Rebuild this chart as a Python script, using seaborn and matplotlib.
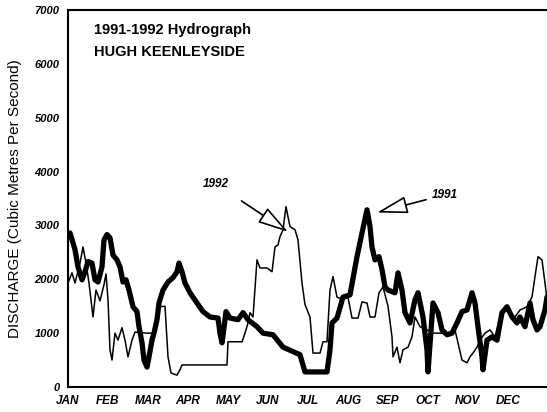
import matplotlib
matplotlib.use("Agg")
import matplotlib.pyplot as plt
import seaborn as sns
import pandas as pd

# ---- data (x in months from 1 Jan, y in m3/s) ----
months = ["JAN", "FEB", "MAR", "APR", "MAY", "JUN", "JUL", "AUG", "SEP", "OCT", "NOV", "DEC"]
yticks = [0, 1000, 2000, 3000, 4000, 5000, 6000, 7000]

t_1991 = [0.05, 0.175, 0.25, 0.35, 0.425, 0.5, 0.6, 0.675, 0.75, 0.85, 0.9, 0.975, 1.05, 1.125,
          1.225, 1.3, 1.375, 1.45, 1.525, 1.625, 1.725, 1.775, 1.85, 1.9, 1.975, 2.025, 2.1,
          2.15, 2.225, 2.275, 2.375, 2.5, 2.625, 2.725, 2.775, 2.85, 2.925, 3.05, 3.225,
          3.375, 3.55, 3.75, 3.8, 3.85, 3.9, 3.95, 4.05, 4.25, 4.375, 4.5, 4.725, 4.875,
          5.125, 5.375, 5.8, 5.925, 6.475, 6.55, 6.6, 6.725, 6.875, 7.05, 7.225, 7.35,
          7.475, 7.55, 7.6, 7.675, 7.775, 7.85, 7.925, 8.0, 8.175, 8.25, 8.35, 8.425,
          8.55, 8.675, 8.75, 8.875, 8.975, 9.0, 9.125, 9.25, 9.35, 9.475, 9.6, 9.725,
          9.85, 9.975, 10.1, 10.175, 10.25, 10.35, 10.375, 10.475, 10.6, 10.725, 10.85,
          10.975, 11.1, 11.225, 11.3, 11.425, 11.55, 11.625, 11.725, 11.8, 11.925, 11.975]
q_1991 = [2860, 2550, 2230, 1990, 2140, 2330, 2300, 1990, 1950, 2230, 2730, 2830, 2770, 2450,
          2360, 2230, 1950, 1990, 1800, 1490, 1400, 1120, 820, 500, 370, 560, 870,
          1000, 1250, 1560, 1800, 1950, 2030, 2140, 2300, 2140, 1930, 1750, 1560,
          1400, 1300, 1280, 1000, 820, 1100, 1400, 1280, 1250, 1380, 1250, 1120, 1000,
          970, 740, 600, 280, 280, 690, 1190, 1280, 1670, 1710, 2420, 2860,
          3290, 2980, 2600, 2360, 2420, 2180, 1860, 1800, 1750, 2120, 1800, 1380,
          1190, 1620, 1750, 1300, 690, 280, 1560, 1380, 1060, 970, 1000, 1190,
          1400, 1430, 1750, 1560, 1120, 560, 320, 870, 930, 870, 1380,
          1490, 1300, 1190, 1300, 1120, 1560, 1250, 1060, 1120, 1430, 1670]

t_1992 = [0.0, 0.1, 0.175, 0.3, 0.375, 0.45, 0.525, 0.625, 0.7, 0.8, 0.9, 0.95, 1.0, 1.05,
          1.1, 1.175, 1.25, 1.35, 1.425, 1.5, 1.6, 1.675, 1.975, 2.175, 2.3, 2.425, 2.5,
          2.575, 2.725, 2.8, 2.85, 3.3, 3.975, 4.0, 4.35, 4.425, 4.5, 4.55, 4.625, 4.725,
          4.8, 4.975, 5.1, 5.175, 5.25, 5.3, 5.375, 5.45, 5.5, 5.55, 5.675, 5.75, 5.85,
          5.925, 6.05, 6.125, 6.3, 6.375, 6.475, 6.55, 6.625, 6.725, 6.875, 7.0, 7.1,
          7.25, 7.35, 7.475, 7.55, 7.675, 7.775, 7.875, 8.0, 8.1, 8.125, 8.225, 8.3,
          8.375, 8.5, 8.6, 8.675, 8.8, 8.975, 9.125, 9.375, 9.55, 9.675, 9.75, 9.85,
          9.975, 10.05, 10.125, 10.225, 10.3, 10.425, 10.55, 10.675, 10.8, 10.925,
          11.05, 11.175, 11.3, 11.475, 11.6, 11.675, 11.75, 11.85, 11.925, 11.975]
q_1992 = [1930, 2120, 1930, 2300, 2600, 2300, 1930, 1300, 1800, 1600, 1900, 2100, 1620, 690,
          500, 1000, 870, 1100, 870, 560, 870, 1020, 1000, 1000, 1490, 1500, 560,
          260, 220, 320, 410, 410, 410, 840, 840, 1000, 1190, 1380, 1300, 2360,
          2210, 2210, 2140, 2600, 2640, 2790, 2920, 3350, 3160, 2980, 2920, 2730, 1930,
          1530, 1300, 630, 630, 840, 840, 1800, 2050, 1670, 1620, 1670, 1280,
          1280, 1580, 1560, 1300, 1300, 1750, 1860, 1500, 930, 560, 740, 450,
          690, 740, 930, 1300, 1120, 1060, 1000, 1000, 970, 1060, 820, 500,
          450, 560, 630, 740, 870, 1000, 1060, 930, 1300, 1490,
          1380, 1300, 1430, 1490, 1670, 2050, 2420, 2360, 1930, 1620]

df91 = pd.DataFrame({"month": t_1991, "discharge": q_1991})
df92 = pd.DataFrame({"month": t_1992, "discharge": q_1992})

# ---- plotting ----
sns.set_style("white")
plt.rcParams["font.family"] = ["Liberation Sans", "DejaVu Sans"]
plt.rcParams["text.color"] = "black"
plt.rcParams["axes.labelcolor"] = "black"
plt.rcParams["xtick.color"] = "black"
plt.rcParams["ytick.color"] = "black"

fig = plt.figure(figsize=(5.47, 4.12), dpi=100)
ax = fig.add_axes([68 / 547, 25 / 412, 480 / 547, 377 / 412])

sns.lineplot(data=df92, x="month", y="discharge", ax=ax, color="black",
             linewidth=1.1, sort=False)
sns.lineplot(data=df91, x="month", y="discharge", ax=ax, color="black",
             linewidth=3.8, sort=False, solid_joinstyle="round")

ax.set_xlim(0, 12)
ax.set_ylim(0, 7000)

ax.set_xticks(range(12))
ax.set_xticklabels(months, fontsize=8.5, fontweight="bold", fontstyle="italic")
ax.set_yticks(yticks)
ax.set_yticklabels([str(v) for v in yticks], fontsize=8, fontweight="bold",
                   fontstyle="italic")
ax.tick_params(axis="x", length=0, pad=6)
ax.tick_params(axis="y", length=3, width=1, direction="out", pad=3, color="black")

for s in ["left", "bottom", "top"]:
    ax.spines[s].set_color("black")
    ax.spines[s].set_linewidth(1.5)
ax.spines["right"].set_visible(False)

ax.set_xlabel("")
ax.set_ylabel("DISCHARGE (Cubic Metres Per Second)", fontsize=11, labelpad=9)

ax.text(0.65, 6620, "1991-1992 Hydrograph", fontsize=10.5, fontweight="bold", va="center")
ax.text(0.65, 6220, "HUGH KEENLEYSIDE", fontsize=10.5, fontweight="bold", va="center")

head = "-|>,head_length=0.95,head_width=0.27"
ax.annotate("1992", xy=(5.5, 2880), xytext=(3.7, 3770), fontsize=8.5,
            fontweight="bold", fontstyle="italic", ha="center", va="center",
            arrowprops=dict(arrowstyle=head, mutation_scale=20,
                            fc="white", ec="black", lw=1.2,
                            shrinkA=10, shrinkB=0))
ax.annotate("1991", xy=(7.73, 3240), xytext=(9.1, 3570), fontsize=8.5,
            fontweight="bold", fontstyle="italic", ha="left", va="center",
            arrowprops=dict(arrowstyle=head, mutation_scale=20,
                            fc="white", ec="black", lw=1.2,
                            shrinkA=2, shrinkB=0))

fig.savefig("out.png", dpi=100)
